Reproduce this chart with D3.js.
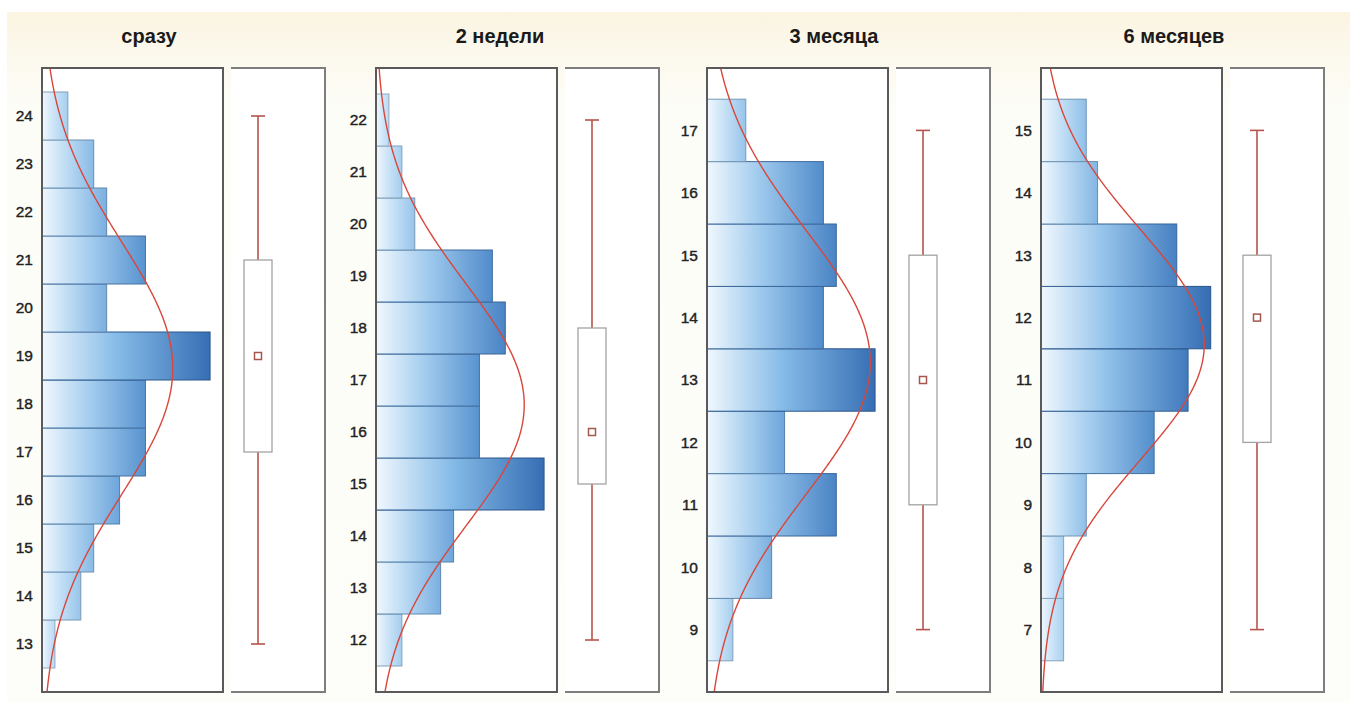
<!DOCTYPE html>
<html>
<head>
<meta charset="utf-8">
<script src="https://cdn.jsdelivr.net/npm/d3@7"></script>
<style>
  body { margin: 0; background: #ffffff; }
  svg { display: block; font-family: "Liberation Sans", Arial, sans-serif; }
</style>
</head>
<body>
<svg id="chart" width="1354" height="702"></svg>
<script>
// Panel titles (time point of measurement)
const titles = ["сразу", "2 недели", "3 месяца", "6 месяцев"];

// Histogram bins (value classes) and frequencies for each time point
const binsNow = [13, 14, 15, 16, 17, 18, 19, 20, 21, 22, 23, 24];
const countsNow = [1, 3, 4, 6, 8, 8, 13, 5, 8, 5, 4, 2];

const bins2w = [12, 13, 14, 15, 16, 17, 18, 19, 20, 21, 22];
const counts2w = [2, 5, 6, 13, 8, 8, 10, 9, 3, 2, 1];

const bins3m = [9, 10, 11, 12, 13, 14, 15, 16, 17];
const counts3m = [2, 5, 10, 6, 13, 9, 10, 9, 3];

const bins6m = [7, 8, 9, 10, 11, 12, 13, 14, 15];
const counts6m = [2, 2, 4, 10, 13, 15, 12, 5, 4];

// Box plot statistics: whisker ends, quartiles, median
const whiskerLow = [13, 12, 9, 7];
const quart1 = [17, 15, 11, 10];
const medians = [19, 16, 13, 12];
const quart3 = [21, 18, 15, 13];
const whiskerHigh = [24, 22, 17, 15];

// Axis ranges
const yDomains = [[12, 25], [11, 23], [8, 18], [6, 16]];
const xMaxes = [14, 14, 14, 16];

const binSets = [binsNow, bins2w, bins3m, bins6m];
const countSets = [countsNow, counts2w, counts3m, counts6m];

// ---------- layout ----------
const W = 1354, H = 702;
const plotTop = 68, plotBottom = 692;
const panelLeft = [42, 376, 707, 1041];
const histW = 181;
const boxGap = 8, boxFrameW = 94;
const titleX = [149, 500, 834, 1174];

const svg = d3.select("#chart");
const defs = svg.append("defs");

// background with a warm band behind the titles
const bg = defs.append("linearGradient").attr("id", "bgGrad")
  .attr("x1", 0).attr("y1", 0).attr("x2", 0).attr("y2", 1);
bg.append("stop").attr("offset", 0).attr("stop-color", "#fbf4e1");
bg.append("stop").attr("offset", 0.07).attr("stop-color", "#fcf9ee");
bg.append("stop").attr("offset", 0.14).attr("stop-color", "#fdfdf8");
bg.append("stop").attr("offset", 1).attr("stop-color", "#fdfdf9");
svg.append("rect").attr("x", 7).attr("y", 12).attr("width", W - 11).attr("height", H - 12)
  .attr("fill", "url(#bgGrad)");

// bar shading: the longer the bar, the deeper the blue at its right end
const endColor = d3.scaleLinear()
  .domain([0, 0.15, 0.5, 1])
  .range(["#cfe6f8", "#a3cdef", "#5f9bd6", "#2f66ae"])
  .interpolate(d3.interpolateRgb);
const midColor = d3.scaleLinear()
  .domain([0, 1])
  .range(["#d9ecfa", "#7fb7e6"])
  .interpolate(d3.interpolateRgb);

function normalPdf(x, mu, sd) {
  return Math.exp(-0.5 * ((x - mu) / sd) ** 2) / (sd * Math.sqrt(2 * Math.PI));
}

titles.forEach((title, i) => {
  const left = panelLeft[i];
  const bins = binSets[i];
  const counts = countSets[i];
  const data = bins.map((b, k) => ({ bin: b, count: counts[k] }));

  const y = d3.scaleLinear().domain(yDomains[i]).range([plotBottom, plotTop]);
  const x = d3.scaleLinear().domain([0, xMaxes[i]]).range([left, left + histW]);

  const g = svg.append("g");

  // title
  g.append("text")
    .attr("x", titleX[i]).attr("y", 43)
    .attr("text-anchor", "middle")
    .attr("font-size", 20).attr("font-weight", "bold")
    .attr("fill", "#1a1a1a")
    .text(title);

  // histogram plot area
  g.append("rect")
    .attr("x", left).attr("y", plotTop)
    .attr("width", histW).attr("height", plotBottom - plotTop)
    .attr("fill", "#ffffff");

  const clipId = "clip" + i;
  defs.append("clipPath").attr("id", clipId)
    .append("rect").attr("x", left).attr("y", plotTop)
    .attr("width", histW).attr("height", plotBottom - plotTop);

  // bars, each with its own horizontal gradient
  data.forEach((d, k) => {
    const t = d.count / xMaxes[i];
    const c1 = endColor(t);
    const gid = `bar${i}_${k}`;
    const lg = defs.append("linearGradient").attr("id", gid)
      .attr("x1", 0).attr("y1", 0).attr("x2", 1).attr("y2", 0);
    lg.append("stop").attr("offset", 0).attr("stop-color", "#f1f8fe");
    lg.append("stop").attr("offset", 0.45).attr("stop-color", midColor(t));
    lg.append("stop").attr("offset", 1).attr("stop-color", c1);
    d.grad = gid;
    d.stroke = d3.color(c1).darker(0.7).formatHex();
  });

  g.append("g").selectAll("rect").data(data).join("rect")
    .attr("x", x(0))
    .attr("y", d => y(d.bin + 0.5))
    .attr("width", d => x(d.count) - x(0))
    .attr("height", d => y(d.bin - 0.5) - y(d.bin + 0.5))
    .attr("fill", d => `url(#${d.grad})`)
    .attr("stroke", d => d.stroke)
    .attr("stroke-width", 1);

  // fitted normal curve (scaled to counts per unit bin)
  const n = d3.sum(counts);
  const mu = d3.sum(data, d => d.bin * d.count) / n;
  const sd = Math.sqrt(d3.sum(data, d => d.count * (d.bin - mu) ** 2) / (n - 1));
  const ys = d3.range(yDomains[i][0], yDomains[i][1] + 0.001, 0.05);
  const line = d3.line()
    .x(v => x(n * normalPdf(v, mu, sd)))
    .y(v => y(v))
    .curve(d3.curveBasis);
  g.append("path")
    .attr("clip-path", `url(#${clipId})`)
    .attr("d", line(ys))
    .attr("fill", "none")
    .attr("stroke", "#d9463a")
    .attr("stroke-width", 1.4);

  // histogram frame
  g.append("rect")
    .attr("x", left).attr("y", plotTop)
    .attr("width", histW).attr("height", plotBottom - plotTop)
    .attr("fill", "none").attr("stroke", "#5a5a5a").attr("stroke-width", 2);

  // y axis labels
  const axis = d3.axisLeft(y).tickValues(bins).tickSize(0).tickPadding(9)
    .tickFormat(d3.format("d"));
  const ax = g.append("g").attr("transform", `translate(${left},0)`).call(axis);
  ax.select(".domain").remove();
  ax.selectAll("text")
    .attr("font-size", 15.5)
    .attr("font-family", "Liberation Sans, Arial, sans-serif")
    .attr("fill", "#222")
    .attr("stroke", "#222")
    .attr("stroke-width", 0.4);

  // box plot panel
  const bx0 = left + histW + boxGap;
  const bx1 = bx0 + boxFrameW;
  g.append("rect").attr("x", bx0).attr("y", plotTop)
    .attr("width", boxFrameW).attr("height", plotBottom - plotTop)
    .attr("fill", "#ffffff");
  g.append("path")
    .attr("d", `M${bx0},${plotTop}H${bx1}V${plotBottom}H${bx0}`)
    .attr("fill", "none").attr("stroke", "#7e7e7e").attr("stroke-width", 2);

  const cx = left + 216;
  const boxW = 28, capW = 14;
  const wcol = "#b5544b";
  // whiskers
  g.append("line").attr("x1", cx).attr("x2", cx)
    .attr("y1", y(whiskerHigh[i])).attr("y2", y(quart3[i]))
    .attr("stroke", wcol).attr("stroke-width", 1.6);
  g.append("line").attr("x1", cx).attr("x2", cx)
    .attr("y1", y(quart1[i])).attr("y2", y(whiskerLow[i]))
    .attr("stroke", wcol).attr("stroke-width", 1.6);
  [whiskerHigh[i], whiskerLow[i]].forEach(v => {
    g.append("line").attr("x1", cx - capW / 2).attr("x2", cx + capW / 2)
      .attr("y1", y(v)).attr("y2", y(v))
      .attr("stroke", wcol).attr("stroke-width", 1.6);
  });
  // box
  g.append("rect")
    .attr("x", cx - boxW / 2).attr("y", y(quart3[i]))
    .attr("width", boxW).attr("height", y(quart1[i]) - y(quart3[i]))
    .attr("fill", "#ffffff").attr("stroke", "#a3a3a3").attr("stroke-width", 1.3);
  // median marker
  g.append("rect")
    .attr("x", cx - 3.5).attr("y", y(medians[i]) - 3.5)
    .attr("width", 7).attr("height", 7)
    .attr("fill", "#ffffff").attr("stroke", "#a4574d").attr("stroke-width", 1.5);
});
</script>
</body>
</html>
